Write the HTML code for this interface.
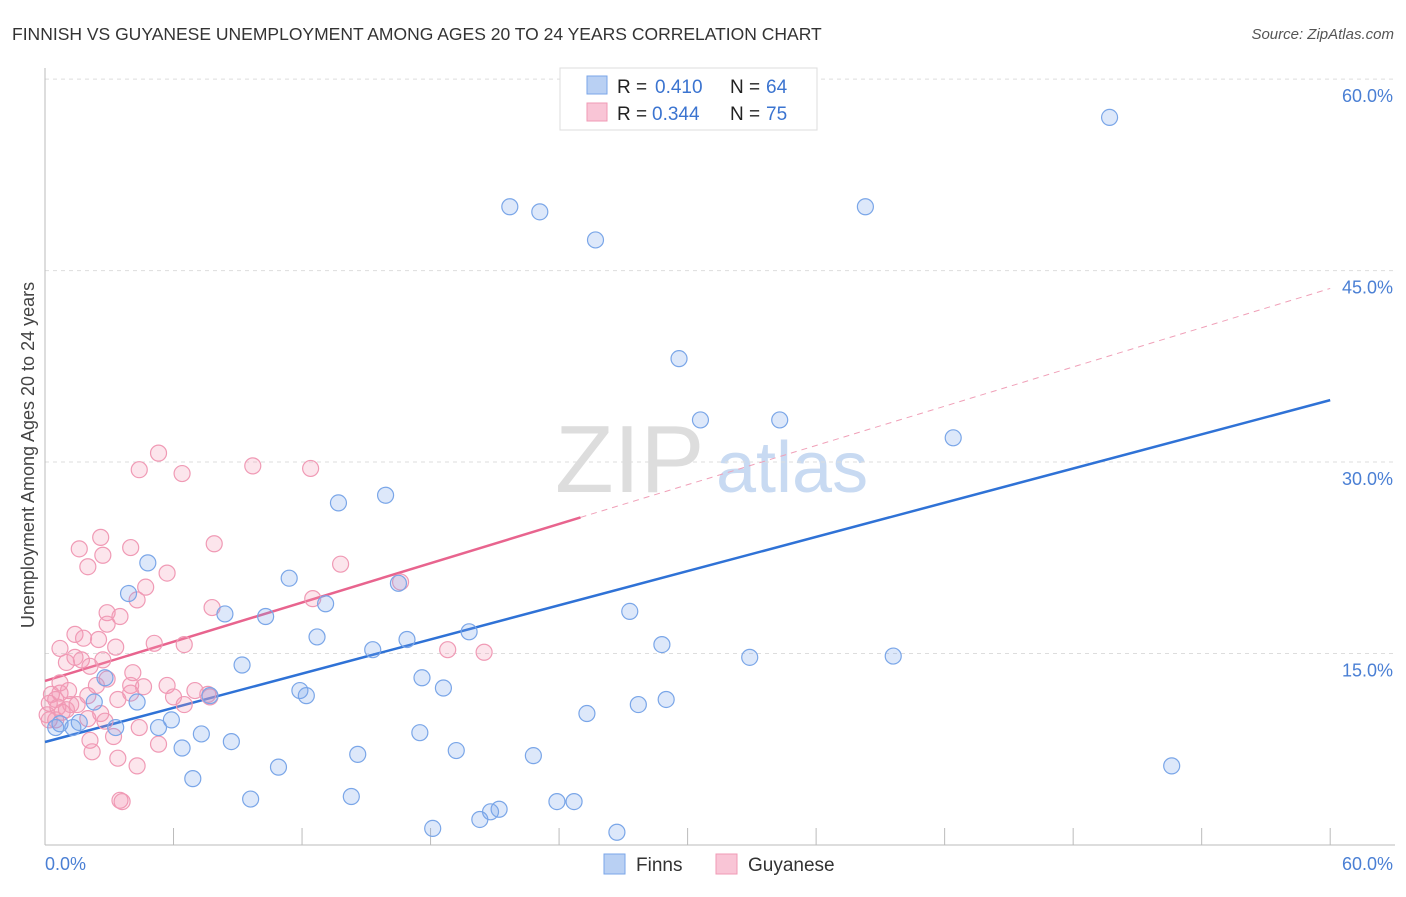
<!DOCTYPE html>
<html><head><meta charset="utf-8"><style>
body{margin:0;background:#fff;font-family:"Liberation Sans",sans-serif;}
svg text{font-family:"Liberation Sans",sans-serif;}
</style></head><body>
<svg id="chart" width="1406" height="892">
<text x="12" y="40" font-size="17.5" fill="#333">FINNISH VS GUYANESE UNEMPLOYMENT AMONG AGES 20 TO 24 YEARS CORRELATION CHART</text>
<text x="1394" y="39" font-size="15" fill="#555" font-style="italic" text-anchor="end">Source: ZipAtlas.com</text>
<text x="0" y="0" font-size="18" fill="#444" transform="translate(34,455) rotate(-90)" text-anchor="middle">Unemployment Among Ages 20 to 24 years</text>
<g id="watermark">
<text x="555" y="492" font-size="96" fill="#ddd" font-family="Liberation Serif,serif">ZIP</text>
<text x="716" y="492" font-size="72" fill="#c8daf2">atlas</text>
</g>
<g id="grid"></g><g id="axes"></g><g id="lines"></g><g id="pts"></g>
<g>
<rect x="560" y="68" width="257" height="62" fill="#fff" stroke="#ddd"/>
<rect x="587" y="76" width="20" height="18" fill="#b9d0f3" stroke="#7aa6e8"/>
<rect x="587" y="103" width="20" height="18" fill="#f9c5d6" stroke="#f09ab5"/>
<text y="93" font-size="19" fill="#222"><tspan x="617">R =</tspan><tspan x="655" fill="#3b74d0">0.410</tspan><tspan x="730">N =</tspan><tspan x="766" fill="#3b74d0">64</tspan></text>
<text y="120" font-size="19" fill="#222"><tspan x="617">R =</tspan><tspan x="652" fill="#3b74d0">0.344</tspan><tspan x="730">N =</tspan><tspan x="766" fill="#3b74d0">75</tspan></text>
</g>
<g>
<rect x="604" y="854" width="21" height="20" fill="#b9d0f3" stroke="#7aa6e8"/>
<text x="636" y="871" font-size="19" fill="#333">Finns</text>
<rect x="716" y="854" width="21" height="20" fill="#f9c5d6" stroke="#f09ab5"/>
<text x="748" y="871" font-size="19" fill="#333">Guyanese</text>
</g>
</svg>
<script>
const yTicks=[15,30,45,60];
const yTickLabels=["15.0%","30.0%","45.0%","60.0%"];
const xTickVals=[0,6,12,18,24,30,36,42,48,54,60];
const finnsX=[49.7,21.7,23.1,38.3,25.7,29.6,30.6,34.3,42.4,15.9,13.7,4.8,11.4,3.9,13.1,8.4,10.3,27.3,12.7,19.8,16.9,15.3,28.8,39.6,32.9,9.2,17.6,2.8,18.6,11.9,12.2,7.7,2.3,4.3,29.0,27.7,25.3,5.9,5.3,3.3,1.6,0.7,1.3,17.5,7.3,8.7,6.4,19.2,14.6,22.8,10.9,6.9,52.6,9.6,14.3,23.9,24.7,21.2,20.8,20.3,18.1,26.7,0.5,16.5];
const finnsY=[57.0,50.0,49.6,50.0,47.4,38.1,33.3,33.3,31.9,27.4,26.8,22.1,20.9,19.7,18.9,18.1,17.9,18.3,16.3,16.7,16.1,15.3,15.7,14.8,14.7,14.1,13.1,13.1,12.3,12.1,11.7,11.7,11.2,11.2,11.4,11.0,10.3,9.8,9.2,9.2,9.6,9.5,9.2,8.8,8.7,8.1,7.6,7.4,7.1,7.0,6.1,5.2,6.2,3.6,3.8,3.4,3.4,2.8,2.6,2.0,1.3,1.0,9.2,20.5];
const guyX=[5.3,4.4,6.4,9.7,12.4,7.9,2.6,4.0,1.6,2.7,2.0,5.7,13.8,4.7,16.6,4.3,12.5,2.9,3.5,7.8,2.9,1.4,1.8,2.5,5.1,6.5,0.7,3.3,18.8,20.5,1.4,2.7,1.0,1.7,2.1,4.1,2.9,2.4,4.0,5.7,4.6,1.1,7.0,0.7,0.3,2.0,7.6,6.0,3.4,4.0,6.5,0.5,0.2,1.5,2.6,2.8,4.4,2.0,1.0,0.1,0.8,0.2,3.2,2.1,5.3,2.2,3.4,4.3,3.5,3.6,0.5,1.2,0.6,7.7,0.7];
const guyY=[30.7,29.4,29.1,29.7,29.5,23.6,24.1,23.3,23.2,22.7,21.8,21.3,22.0,20.2,20.6,19.2,19.3,18.2,17.9,18.6,17.3,16.5,16.2,16.1,15.8,15.7,15.4,15.5,15.3,15.1,14.7,14.5,14.3,14.5,14.0,13.5,13.0,12.5,12.5,12.5,12.4,12.1,12.1,11.9,11.8,11.7,11.8,11.6,11.4,11.9,11.0,11.4,11.1,11.0,10.3,9.7,9.2,9.9,10.6,10.2,10.4,9.8,8.5,8.2,7.9,7.3,6.8,6.2,3.5,3.4,9.8,11.0,10.8,11.6,12.7];
const finnsTrend=[8.07,34.85];
const guyTrend=[12.85,43.6];
const guySolidEnd=25;
const NS="http://www.w3.org/2000/svg";
const X=v=>45+v*21.42, Y=v=>845-v*12.765;
function mk(tag,attrs,parent){const e=document.createElementNS(NS,tag);for(const k in attrs)e.setAttribute(k,attrs[k]);document.getElementById(parent).appendChild(e);return e;}
yTicks.forEach((t,i)=>{
 const g=mk('line',{x1:45,x2:1395,y1:Y(t),y2:Y(t),stroke:'#ddd','stroke-dasharray':'4,4'},'grid');
 
 
 const l=mk('text',{x:1393,y:Y(t)+23,'font-size':18,fill:'#4a7fd4','text-anchor':'end'},'grid');
 l.textContent=yTickLabels[i];
 
 
});
const ax=mk('line',{x1:45,x2:45,y1:68,y2:845,stroke:'#bbb'},'axes');


const bx=mk('line',{x1:45,x2:1395,y1:845,y2:845,stroke:'#bbb'},'axes');


xTickVals.forEach(t=>{
 const k=mk('line',{x1:X(t),x2:X(t),y1:828,y2:845,stroke:'#bbb'},'axes');
 
 
});
const x0=mk('text',{x:45,y:870,'font-size':18,fill:'#4a7fd4'},'axes');x0.textContent='0.0%';


const x1=mk('text',{x:1393,y:870,'font-size':18,fill:'#4a7fd4','text-anchor':'end'},'axes');x1.textContent='60.0%';


const gs=guyTrend[0]+(guyTrend[1]-guyTrend[0])*guySolidEnd/60;
const gd=mk('line',{x1:X(guySolidEnd),y1:Y(gs),x2:X(60),y2:Y(guyTrend[1]),stroke:'#f0a0b8','stroke-width':1,'stroke-dasharray':'6,5'},'lines');


function dot(x,y,fill,stroke,name){
 const c=mk('circle',{cx:X(x),cy:Y(y),r:8,fill:fill,stroke:stroke,'stroke-width':1.2},'pts');
 
 
}
guyX.forEach((x,i)=>dot(x,guyY[i],'rgba(244,150,180,0.25)','#f09ab5','guyanese-point'));
finnsX.forEach((x,i)=>dot(x,finnsY[i],'rgba(120,165,235,0.25)','#7aa6e8','finns-point'));
const fl=mk('line',{x1:X(0),y1:Y(finnsTrend[0]),x2:X(60),y2:Y(finnsTrend[1]),stroke:'#2f72d6','stroke-width':2.5},'lines');


const gl=mk('line',{x1:X(0),y1:Y(guyTrend[0]),x2:X(guySolidEnd),y2:Y(gs),stroke:'#e8648e','stroke-width':2.5},'lines');


</script>
</body></html>
